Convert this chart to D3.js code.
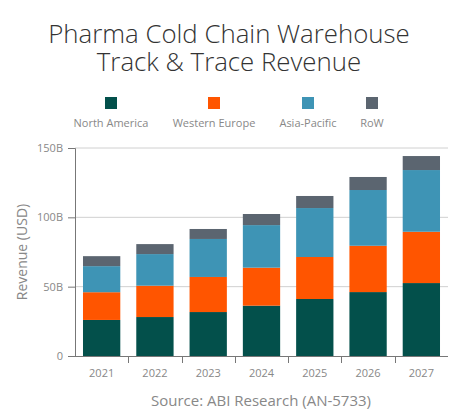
<!DOCTYPE html>
<html><head><meta charset="utf-8">
<script src="https://cdn.jsdelivr.net/npm/d3@7"></script>
<style>body{margin:0;background:#fff;} text{font-family:"Open Sans","Noto Sans",sans-serif;}</style>
</head><body><svg id="c" width="458" height="420"></svg>
<script>
const years = ["2021","2022","2023","2024","2025","2026","2027"];
const seriesNames = ["North America","Western Europe","Asia-Pacific","RoW"];
const northAmerica = [26, 28.1, 31.7, 36.3, 41.1, 46.1, 52.6];
const westernEurope = [20, 22.6, 25.3, 27.4, 30.3, 33.4, 37];
const asiaPacific = [18.8, 22.8, 27.4, 30.7, 35.3, 40.2, 44.5];
const row = [7.2, 7.2, 7.2, 8, 8.7, 9.4, 10.1];
const colors = ["#03504B","#FF5500","#3E94B5","#5B6570"];
const yTicks = [0,50,100,150];
const titleLines = ["Pharma Cold Chain Warehouse","Track & Trace Revenue"];

const svg = d3.select("#c");
const pL=75, pR=448, pT=148, pB=356;
const x = d3.scaleBand().domain(years).range([pL,pR]).paddingInner(0.3).paddingOuter(0.15);
const y = d3.scaleLinear().domain([0,150]).range([pB,pT]);

const data = years.map((yr,i)=>({year:yr,"North America":northAmerica[i],"Western Europe":westernEurope[i],"Asia-Pacific":asiaPacific[i],"RoW":row[i]}));
const stack = d3.stack().keys(seriesNames)(data);

// title (one text, two lines)
const title = svg.append("text").attr("text-anchor","middle").attr("font-size",25.8).attr("font-weight",300).attr("fill","#333");
title.selectAll("tspan").data(titleLines).join("tspan").attr("x",229).attr("y",(d,i)=>43+i*28).text(d=>d);

// legend
const legX=[111,214,308,372];
seriesNames.forEach((s,i)=>{
  svg.append("rect").attr("x",legX[i]-6).attr("y",97).attr("width",12).attr("height",12).attr("fill",colors[i]);
  svg.append("text").attr("x",legX[i]).attr("y",127).attr("text-anchor","middle").attr("font-size",11).attr("fill","#888").text(s);
});

// grid
svg.append("g").selectAll("line").data(yTicks.filter(d=>d>0)).join("line")
  .attr("x1",pL).attr("x2",pR).attr("y1",d=>y(d)).attr("y2",d=>y(d)).attr("stroke","#d0d0d0").attr("stroke-width",1);

// bars
svg.append("g").selectAll("g").data(stack).join("g").attr("fill",(d,i)=>colors[i])
  .selectAll("rect").data(d=>d).join("rect")
  .attr("x",d=>x(d.data.year)).attr("width",x.bandwidth())
  .attr("y",d=>y(d[1])).attr("height",d=>y(d[0])-y(d[1]));

// y axis
const yAxis = svg.append("g").attr("transform",`translate(${pL},0)`)
  .call(d3.axisLeft(y).tickValues(yTicks).tickSize(7).tickPadding(5).tickFormat(d=>d===0?"0":d+"B"));
yAxis.select(".domain").attr("stroke","#777");
yAxis.selectAll(".tick line").attr("stroke","#777");
yAxis.selectAll("text").attr("font-size",11).attr("fill","#888").style("font-family","'Open Sans','Noto Sans',sans-serif");

// x axis
const xAxis = svg.append("g").attr("transform",`translate(0,${pB})`)
  .call(d3.axisBottom(x).tickSize(0).tickPadding(13));
xAxis.select(".domain").attr("stroke","#777").attr("d",`M${pL},0.5H${pR}`);
xAxis.selectAll("text").attr("font-size",11).attr("fill","#888").style("font-family","'Open Sans','Noto Sans',sans-serif");
// boundary ticks
const step = x.step();
const bounds = years.slice(1).map(yr=>x(yr)-x.paddingInner()*step/2);
xAxis.selectAll(".btick").data(bounds).join("line").attr("class","btick")
  .attr("x1",d=>Math.round(d)+0.5).attr("x2",d=>Math.round(d)+0.5).attr("y1",0).attr("y2",7).attr("stroke","#777");

// y label
svg.append("text").attr("transform","translate(27,252) rotate(-90)").attr("text-anchor","middle").attr("font-size",14).attr("fill","#888").text("Revenue (USD)");

// source
svg.append("text").attr("x",261).attr("y",406).attr("text-anchor","middle").attr("font-size",15).attr("fill","#888").text("Source: ABI Research (AN-5733)");
</script></body></html>
